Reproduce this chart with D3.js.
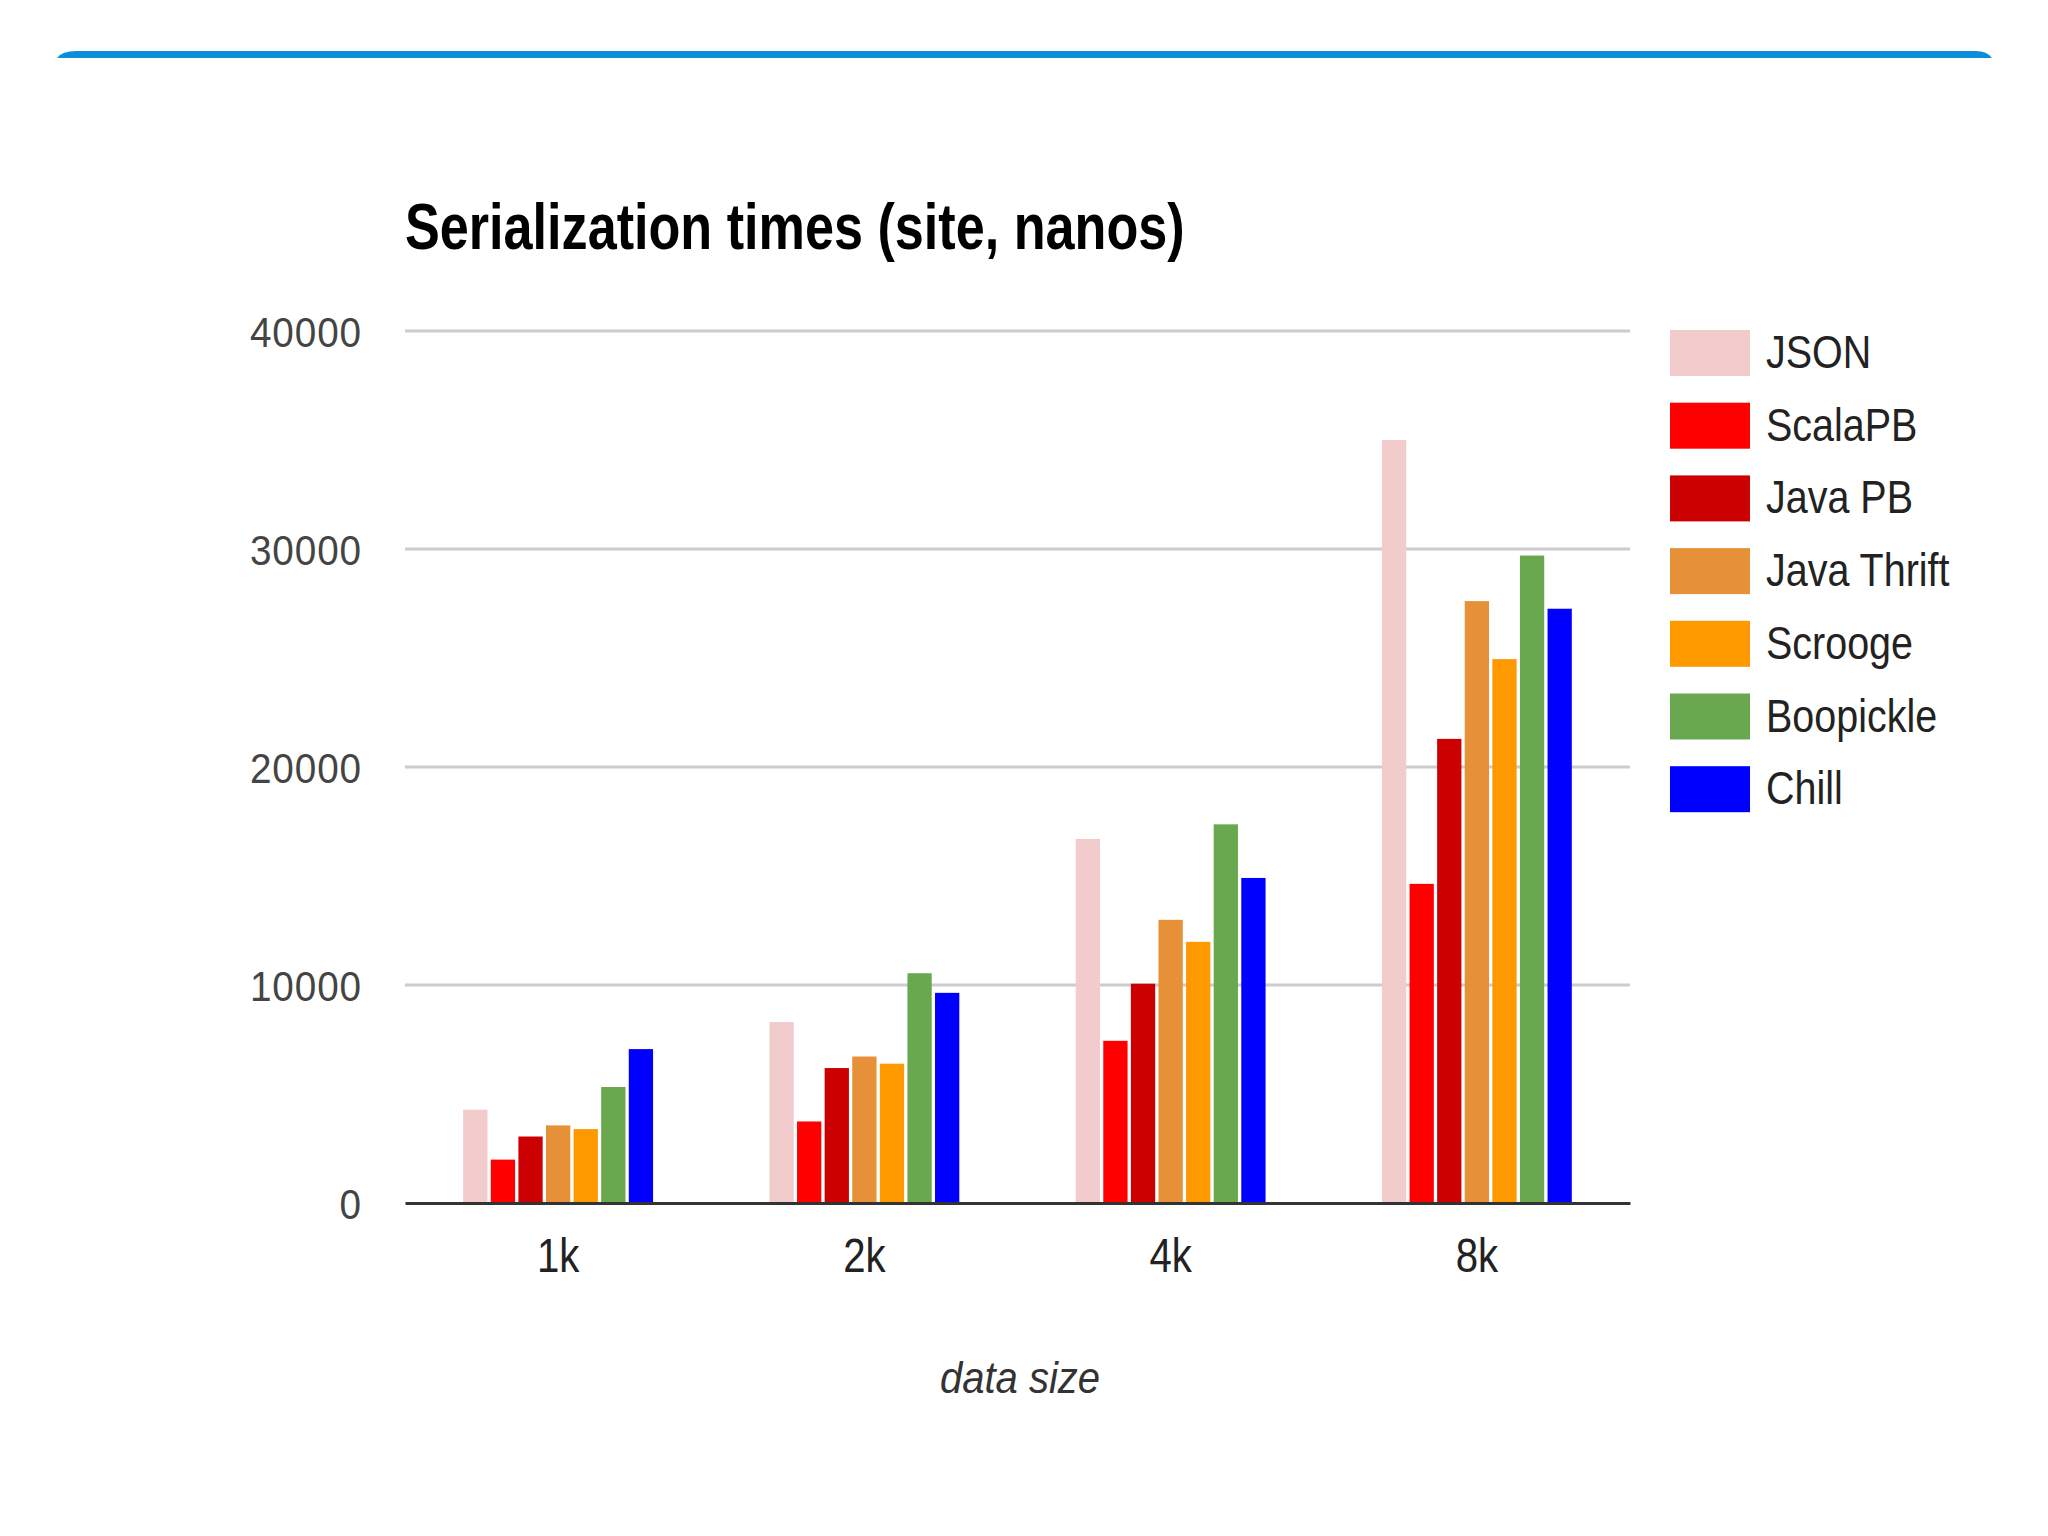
<!DOCTYPE html>
<html>
<head>
<meta charset="utf-8">
<script src="https://cdn.jsdelivr.net/npm/d3@7"></script>
<style>
  body { margin: 0; background: #fff; }
  text { font-family: 'Liberation Sans', Arial, sans-serif; }
</style>
</head>
<body>
<div id="chart"></div>
<script>
// data
const categories = ['1k', '2k', '4k', '8k'];
const seriesNames = ['JSON', 'ScalaPB', 'Java PB', 'Java Thrift', 'Scrooge', 'Boopickle', 'Chill'];
const seriesColors = ['#f2cbcd', '#ff0000', '#cc0000', '#e69138', '#ff9900', '#6aa84f', '#0000ff'];
const jsonValues = [4280, 8300, 16700, 35000];
const scalapbValues = [1990, 3740, 7440, 14640];
const javapbValues = [3050, 6190, 10060, 21290];
const thriftValues = [3560, 6720, 12990, 27610];
const scroogeValues = [3390, 6390, 11980, 24950];
const boopickleValues = [5320, 10540, 17370, 29700];
const chillValues = [7060, 9640, 14910, 27260];
const yTicks = [0, 10000, 20000, 30000, 40000];

const seriesValues = [jsonValues, scalapbValues, javapbValues, thriftValues, scroogeValues, boopickleValues, chillValues];

const W = 2048;
const H = 1536;
const margin = { top: 331, right: 418, bottom: 333, left: 405 };
const width = W - margin.left - margin.right;
const height = H - margin.top - margin.bottom;

const svg = d3
  .select('#chart')
  .append('svg')
  .attr('width', W)
  .attr('height', H);

// blue strip at the top of the slide
svg
  .append('path')
  .attr('d', 'M57,58 Q62,51 76,51 L1976,51 Q1987,51 1992,58 Z')
  .attr('fill', '#0b8fda');

const group = svg
  .append('g')
  .attr('transform', 'translate(' + margin.left + ',' + margin.top + ')');

// scales
const xScale = d3.scaleBand().domain(categories).range([0, width]).paddingInner(0.38).paddingOuter(0.19);
const innerScale = d3.scaleBand().domain(seriesNames).range([0, xScale.bandwidth()]).paddingInner(0.12);
const yScale = d3.scaleLinear().domain([0, 40000]).range([height, 0]);
const colorScale = d3.scaleOrdinal().domain(seriesNames).range(seriesColors);

// gridlines
group
  .append('g')
  .selectAll('line')
  .data(yTicks.filter((d) => d > 0))
  .join('line')
  .attr('x1', 0)
  .attr('x2', width)
  .attr('y1', (d) => yScale(d))
  .attr('y2', (d) => yScale(d))
  .attr('stroke', '#cccccc')
  .attr('stroke-width', 3);

// y axis labels
const yAxis = d3.axisLeft(yScale).tickValues(yTicks).tickSize(0).tickPadding(0).tickFormat(d3.format('d'));
const yAxisGroup = group.append('g').attr('transform', 'translate(-43,0)').call(yAxis);
yAxisGroup.select('.domain').remove();
yAxisGroup
  .selectAll('text')
  .attr('x', 0)
  .attr('dy', '0.35em')
  .attr('fill', '#444')
  .style('font-size', '43px')
  .style('letter-spacing', '1px')
  .attr('transform', 'scale(0.9,1)');

// bars
const rows = categories.map((c, i) => ({
  cat: c,
  values: seriesNames.map((s, j) => ({ name: s, value: seriesValues[j][i] })),
}));

group
  .selectAll('g.cat')
  .data(rows)
  .join('g')
  .attr('class', 'cat')
  .attr('transform', (d) => 'translate(' + xScale(d.cat) + ',0)')
  .selectAll('rect')
  .data((d) => d.values)
  .join('rect')
  .attr('x', (d) => innerScale(d.name))
  .attr('y', (d) => yScale(d.value))
  .attr('width', innerScale.bandwidth())
  .attr('height', (d) => height - yScale(d.value))
  .attr('fill', (d) => colorScale(d.name));

// x axis
const xAxis = d3.axisBottom(xScale).tickSize(0).tickPadding(0);
const xAxisGroup = group.append('g').attr('transform', 'translate(0,' + height + ')').call(xAxis);
xAxisGroup.select('.domain').attr('stroke', '#333').attr('stroke-width', 3);
xAxisGroup
  .selectAll('.tick text')
  .attr('y', 0)
  .attr('dy', 0)
  .attr('fill', '#222')
  .style('font-size', '49px')
  .attr('transform', 'translate(0,69) scale(0.82,1)');

// title
svg
  .append('text')
  .text('Serialization times (site, nanos)')
  .attr('transform', 'translate(405,249) scale(0.815,1)')
  .attr('fill', '#000')
  .style('font-size', '64px')
  .style('font-weight', 'bold');

// x axis title
svg
  .append('text')
  .text('data size')
  .attr('transform', 'translate(1020,1393) scale(0.89,1)')
  .attr('text-anchor', 'middle')
  .attr('fill', '#333')
  .style('font-size', '45px')
  .style('font-style', 'italic');

// legend
const legend = svg
  .append('g')
  .attr('transform', 'translate(1670,330)')
  .selectAll('g')
  .data(seriesNames)
  .join('g')
  .attr('transform', (d, i) => 'translate(0,' + i * 72.7 + ')');

legend
  .append('rect')
  .attr('width', 80)
  .attr('height', 46)
  .attr('fill', (d) => colorScale(d));

legend
  .append('text')
  .text((d) => d)
  .attr('transform', 'translate(96,38) scale(0.84,1)')
  .attr('fill', '#222')
  .style('font-size', '47px');
</script>
</body>
</html>
